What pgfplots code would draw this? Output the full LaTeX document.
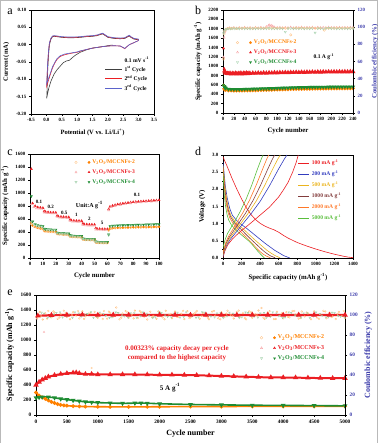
\documentclass[border=0pt]{standalone}
\usepackage{pgfplots}
\pgfplotsset{compat=1.18}
\usepackage{fontspec}
\setmainfont{Liberation Serif}
\definecolor{cor}{RGB}{255,128,0}
\definecolor{cre}{RGB}{235,30,35}
\definecolor{cgr}{RGB}{30,140,50}
\definecolor{cax}{RGB}{60,60,170}
\definecolor{dbl}{RGB}{50,60,190}
\definecolor{dgo}{RGB}{235,180,30}
\definecolor{dbr}{RGB}{130,60,60}
\definecolor{dor}{RGB}{255,120,40}
\definecolor{dgr}{RGB}{90,190,60}
\newcommand{\legtwo}[4]{%
  \draw[color=#2, fill=white, line width=0.35pt, solid] plot[only marks, mark=#1, mark size=1.3pt, mark options={rotate=0}] coordinates {(0pt,0pt)};
  \draw[color=#4, fill=#4, line width=0.2pt, solid] plot[only marks, mark=#3, mark size=1.3pt, mark options={rotate=0}] coordinates {(13pt,0pt)};}
\newcommand{\legtwod}[2]{%
  \draw[color=#1, fill=white, line width=0.35pt, solid] plot[only marks, mark=triangle, mark size=1.3pt, mark options={rotate=180}] coordinates {(0pt,0pt)};
  \draw[color=#2, fill=#2, line width=0.2pt, solid] plot[only marks, mark=triangle*, mark size=1.3pt, mark options={rotate=180}] coordinates {(13pt,0pt)};}
\newcommand{\VO}{V\textsubscript{2}O\textsubscript{3}/MCCNFs}
\pgfplotsset{
  base/.style={scale only axis, axis line style={line width=0.6pt}, tick align=outside,
    major tick length=1.8pt, minor tick length=1pt, tick style={line width=0.45pt, black},
    tick label style={font=\bfseries\fontsize{4.9}{5}\selectfont},
    label style={font=\bfseries\fontsize{6.8}{8}\selectfont},
    /pgf/number format/assume math mode=true,
    /pgf/number format/1000 sep={},
    xticklabel style={yshift=0.6pt}, yticklabel style={xshift=0.6pt},
    legend cell align=left,
    legend style={draw=none, fill=none, font=\bfseries\fontsize{5.6}{6}\selectfont, row sep=-1.2pt, inner sep=0pt},
  },
  single/.style={xtick pos=bottom, ytick pos=left},
}
\begin{document}
\begin{tikzpicture}
\path[use as bounding box] (0,0) rectangle (378pt,443pt);
\draw[gray!55, line width=0.9pt] (0.8pt,0pt) -- (0.8pt,442.4pt) -- (377.2pt,442.4pt) -- (377.2pt,0pt);
% panel letters
\node[font=\fontsize{12}{12}\selectfont, anchor=base] at (10pt,428pt) {a};
\node[font=\fontsize{12}{12}\selectfont, anchor=base] at (198pt,428pt) {b};
\node[font=\fontsize{12}{12}\selectfont, anchor=base] at (10pt,287pt) {c};
\node[font=\fontsize{12}{12}\selectfont, anchor=base] at (198pt,287pt) {d};
\node[font=\fontsize{12}{12}\selectfont, anchor=base] at (10pt,147pt) {e};

% ---------------- panel a ----------------
\begin{axis}[base, single, at={(31pt,329pt)}, anchor=south west, width=123pt, height=104pt,
  xmin=-0.5, xmax=3.5, ymin=-0.20, ymax=0.10,
  xtick={-0.5,0,0.5,1,1.5,2,2.5,3,3.5}, ytick={-0.20,-0.15,-0.10,-0.05,0,0.05,0.10},
  minor x tick num=1,
  xticklabel style={/pgf/number format/.cd, fixed, fixed zerofill, precision=1},
  yticklabel style={/pgf/number format/.cd, fixed, fixed zerofill, precision=2},
  label style={font=\bfseries\fontsize{6.5}{7}\selectfont},
  xlabel={Potential (V vs. Li/Li\textsuperscript{+})}, ylabel={Current (mA)},
  legend style={at={(axis description cs:0.6,0.57)}, anchor=north west}]
\addlegendimage{empty legend}\addlegendentry{0.1 mV s\textsuperscript{-1}}
\addplot[black!75, line width=0.6pt] coordinates {(2.15,-0.001) (2.0,-0.003) (1.8,-0.006) (1.5,-0.01) (1.3,-0.015) (1.1,-0.022) (0.95,-0.03) (0.85,-0.037) (0.75,-0.045) (0.65,-0.047) (0.55,-0.052) (0.45,-0.062) (0.35,-0.072) (0.25,-0.085) (0.15,-0.105) (0.08,-0.125) (0.03,-0.145) (0.01,-0.155) (0.02,-0.14) (0.04,-0.08) (0.07,-0.03) (0.1,0.0) (0.15,0.016) (0.2,0.023) (0.25,0.024) (0.35,0.023) (0.5,0.021) (0.7,0.02) (0.9,0.02) (1.1,0.021) (1.3,0.023) (1.5,0.024) (1.65,0.026) (1.75,0.029) (1.83,0.031) (1.9,0.027) (2.0,0.021) (2.2,0.018) (2.4,0.017) (2.55,0.018) (2.65,0.023) (2.7,0.025) (2.75,0.021) (2.85,0.016) (3.0,0.014)};
\addlegendentry{1\textsuperscript{st} Cycle}
\addplot[cre, line width=0.6pt] coordinates {(3.0,0.012) (2.9,0.008) (2.8,0.004) (2.7,0.0) (2.6,-0.007) (2.55,-0.012) (2.5,-0.009) (2.4,-0.004) (2.2,-0.003) (2.0,-0.004) (1.8,-0.006) (1.5,-0.01) (1.3,-0.014) (1.1,-0.019) (1.0,-0.022) (0.8,-0.025) (0.6,-0.029) (0.45,-0.034) (0.35,-0.042) (0.28,-0.052) (0.2,-0.067) (0.15,-0.08) (0.1,-0.094) (0.05,-0.108) (0.01,-0.12) (0.02,-0.1) (0.04,-0.06) (0.07,-0.02) (0.1,0.005) (0.15,0.018) (0.2,0.024) (0.25,0.025) (0.35,0.024) (0.5,0.022) (0.7,0.021) (0.9,0.021) (1.1,0.022) (1.3,0.024) (1.5,0.025) (1.65,0.027) (1.75,0.030) (1.83,0.032) (1.9,0.028) (2.0,0.022) (2.2,0.019) (2.4,0.018) (2.55,0.019) (2.65,0.024) (2.7,0.026) (2.75,0.022) (2.85,0.017) (3.0,0.015) (3.0,0.012)};
\addlegendentry{2\textsuperscript{nd} Cycle}
\addplot[dbl!80, line width=0.6pt] coordinates {(3.0,0.012) (2.9,0.008) (2.8,0.004) (2.7,0.0) (2.6,-0.007) (2.55,-0.011) (2.5,-0.008) (2.4,-0.004) (2.2,-0.003) (2.0,-0.004) (1.8,-0.006) (1.5,-0.01) (1.3,-0.014) (1.1,-0.018) (1.0,-0.021) (0.8,-0.024) (0.6,-0.027) (0.45,-0.032) (0.35,-0.04) (0.28,-0.05) (0.2,-0.064) (0.15,-0.077) (0.1,-0.09) (0.05,-0.103) (0.01,-0.113) (0.02,-0.095) (0.04,-0.055) (0.07,-0.018) (0.1,0.006) (0.15,0.019) (0.2,0.025) (0.25,0.026) (0.35,0.025) (0.5,0.023) (0.7,0.022) (0.9,0.022) (1.1,0.023) (1.3,0.025) (1.5,0.026) (1.65,0.028) (1.75,0.031) (1.83,0.033) (1.9,0.029) (2.0,0.023) (2.2,0.02) (2.4,0.019) (2.55,0.02) (2.65,0.025) (2.7,0.027) (2.75,0.023) (2.85,0.018) (3.0,0.016) (3.0,0.012)};
\addlegendentry{3\textsuperscript{rd} Cycle}
\end{axis}

% ---------------- panel b ----------------
\begin{axis}[base, at={(223pt,330pt)}, anchor=south west, width=130pt, height=103pt,
  xmin=0, xmax=240, ymin=0, ymax=2200, xtick={0,20,...,240}, ytick={0,200,...,2200},
  axis y line*=left, xtick pos=bottom,
  xlabel={Cycle number}, ylabel={Specific capacity (mAh g\textsuperscript{-1})},
  legend style={at={(axis description cs:0.1,0.73)}, anchor=north west, row sep=0.6pt}]
\addplot[cor, line width=1.2pt, mark=*, mark size=1.1pt, legend image code/.code={\legtwo{o}{cor!45}{*}{cor}}] coordinates {(2,520) (3,500) (5,490) (10,480) (15,478) (20,475) (25,476) (30,475) (35,477) (40,478) (45,479) (50,480) (55,482) (60,483) (65,485) (70,487) (75,488) (80,490) (85,493) (90,495) (95,497) (100,498) (105,500) (110,502) (115,503) (120,505) (125,507) (130,508) (135,509) (140,510) (145,511) (150,512) (155,514) (160,515) (165,516) (170,517) (175,518) (180,518) (185,519) (190,520) (195,520) (200,521) (205,522) (210,522) (215,523) (220,523) (225,524) (230,524) (235,525) (240,525)};
\addlegendentry{\textcolor{cor}{\VO-2}}
\addplot[cre, line width=1.6pt, mark=triangle*, mark size=1.3pt, legend image code/.code={\legtwo{triangle}{cre!40}{triangle*}{cre}}] coordinates {(3,900) (4,870) (5,850) (8,845) (10,840) (13,850) (15,832) (18,845) (20,838) (23,850) (25,835) (28,846) (30,838) (33,852) (35,836) (38,848) (40,842) (43,855) (45,838) (48,850) (50,843) (55,852) (60,848) (65,856) (70,850) (75,858) (80,852) (85,860) (90,855) (95,862) (100,858) (105,864) (110,860) (115,866) (120,862) (125,868) (130,864) (135,870) (140,866) (145,872) (150,868) (155,874) (160,870) (165,876) (170,872) (175,878) (180,873) (185,879) (190,875) (195,880) (200,876) (205,881) (210,877) (215,882) (220,878) (225,883) (230,879) (235,884) (240,881)};
\addlegendentry{\textcolor{cre}{\VO-3}}
\addplot[cgr, line width=1.2pt, mark=triangle*, mark size=1.3pt, mark options={rotate=180}, legend image code/.code={\legtwod{cgr!40}{cgr}}] coordinates {(2,570) (3,550) (5,530) (10,510) (15,506) (20,505) (25,505) (30,505) (35,506) (40,508) (45,510) (50,511) (55,513) (60,515) (65,517) (70,519) (75,520) (80,522) (85,524) (90,526) (95,528) (100,530) (105,532) (110,534) (115,536) (120,538) (125,540) (130,542) (135,543) (140,545) (145,546) (150,548) (155,549) (160,550) (165,551) (170,552) (175,553) (180,553) (185,554) (190,555) (195,556) (200,556) (205,557) (210,557) (215,558) (220,558) (225,559) (230,559) (235,560) (240,560)};
\addlegendentry{\textcolor{cgr}{\VO-4}}
\addplot[only marks, cre, mark=triangle*, mark size=1.3pt] coordinates {(1,1380) (2,950)};
\addplot[only marks, cor, mark=*, mark size=1.1pt] coordinates {(1,600)};
\addplot[only marks, cgr, mark=triangle*, mark size=1.3pt, mark options={rotate=180}] coordinates {(1,600)};
\node[font=\bfseries\fontsize{5.6}{6}\selectfont] at (axis cs:186,1200) {0.1 A g\textsuperscript{-1}};
\end{axis}
\begin{axis}[base, at={(223pt,330pt)}, anchor=south west, width=130pt, height=103pt,
  xmin=0, xmax=240, ymin=0, ymax=120, ytick={0,20,...,120},
  axis y line*=right, axis x line=none,
  yticklabel style={text=cax, xshift=-1.2pt}, ylabel style={text=cax},
  ylabel={Coulombic efficiency (\%)}]
\addplot[only marks, mark=triangle, mark size=1.3pt, cre!40, line width=0.35pt] coordinates {(1,65) (2,88) (3,94) (4,96) (5,97.3) (8,98.3) (12,99) (16,98.6) (20,99.4) (25,98.8) (30,99.3) (35,98.9) (40,99.6) (45,98.9) (50,99.4) (55,98.8) (60,99.5) (65,99.1) (70,99.7) (75,99) (80,100.5) (84,101.8) (86,102.4) (88,101) (90,101.8) (92,100.8) (95,100) (100,99.3) (105,99.7) (110,99) (115,99.5) (120,99.2) (125,99.8) (130,99.1) (135,99.6) (140,99.3) (145,99.9) (150,99.2) (155,99.7) (160,99.4) (165,99.8) (170,99.1) (175,99.7) (180,99.3) (185,99.6) (190,99.2) (195,99.8) (200,99.4) (205,99.6) (210,99.3) (215,99.7) (220,99.4) (225,99.6) (230,99.3) (235,99.7) (240,99.5)};
\addplot[only marks, mark=o, mark size=1.2pt, cor!50, line width=0.35pt] coordinates {(1,63) (2,92) (3,95.5) (5,97.5) (8,98.3) (12,98.8) (16,98.5) (20,99) (25,98.4) (30,98.9) (35,98.6) (40,99.1) (45,98.5) (50,98.9) (55,98.4) (60,99.2) (65,98.7) (70,98.9) (75,98.5) (80,99.1) (85,98.6) (90,99) (95,98.4) (100,98.9) (105,98.6) (110,99.1) (115,98.7) (120,98.9) (125,91) (130,98.6) (135,99) (140,98.7) (145,99.1) (150,98.6) (155,98.9) (160,98.7) (165,99.1) (170,98.6) (175,98.9) (180,98.7) (187,96.5) (190,99) (195,98.6) (200,98.9) (205,98.7) (210,99.1) (215,98.6) (220,98.9) (225,98.7) (230,99) (235,98.6) (240,98.9)};
\addplot[only marks, mark=triangle, mark size=1.3pt, mark options={rotate=180}, cgr!40, line width=0.35pt] coordinates {(1,93) (2,95) (4,97) (7,98) (10,98.3) (14,98.1) (18,98.5) (22,98.2) (26,98.6) (30,98.1) (35,98.5) (40,98.2) (45,98.6) (50,98.1) (55,98.5) (60,98.3) (65,98.6) (70,98.2) (75,98.5) (80,98.3) (85,98.7) (90,98.2) (95,98.5) (100,98.3) (105,98.6) (110,98.2) (115,94.5) (120,98.4) (125,98.6) (130,98.2) (135,98.5) (140,98.3) (145,98.6) (150,98.2) (155,98.5) (160,98.3) (165,98.6) (170,93.5) (175,98.4) (180,98.6) (185,98.2) (190,98.5) (195,99.2) (200,98.4) (205,98.6) (210,98.2) (215,98.5) (220,98.3) (225,98.6) (230,98.2) (235,98.5) (240,98.4)};
\end{axis}

% ---------------- panel c ----------------
\begin{axis}[base, single, at={(30pt,185pt)}, anchor=south west, width=129pt, height=104pt,
  xmin=0, xmax=100, ymin=0, ymax=1600, xtick={0,10,...,100}, ytick={0,200,...,1600},
  xlabel={Cycle number}, ylabel={Specific capacity (mAh g\textsuperscript{-1})},
  legend style={at={(axis description cs:0.345,0.965)}, anchor=north west, row sep=0.6pt}]
\addplot[only marks, cor, mark=*, mark size=1.1pt, legend image code/.code={\legtwo{o}{cor!45}{*}{cor}}] coordinates {(1,540) (2,500) (4,480) (6,465) (8,455) (10,448) (11,420) (12,415) (14,410) (16,408) (18,405) (20,403) (21,375) (22,370) (24,368) (26,366) (28,364) (30,362) (31,335) (32,330) (34,328) (36,326) (38,324) (40,322) (41,290) (42,285) (44,283) (46,281) (48,280) (50,279) (51,245) (52,238) (54,236) (56,235) (58,234) (60,234) (61,430) (62,455) (64,460) (66,463) (68,465) (70,467) (72,468) (74,469) (76,470) (78,471) (80,472) (82,473) (84,474) (86,475) (88,476) (90,476) (92,477) (94,478) (96,478) (98,479) (100,480)};
\addlegendentry{\textcolor{cor}{\VO-2}}
\addplot[only marks, cre, mark=triangle*, mark size=1.3pt, legend image code/.code={\legtwo{triangle}{cre!40}{triangle*}{cre}}] coordinates {(1,1370) (2,840) (4,800) (6,780) (8,775) (10,770) (11,720) (12,710) (14,705) (16,700) (18,700) (20,698) (21,650) (22,640) (24,635) (26,632) (28,630) (30,628) (31,590) (32,580) (34,575) (36,573) (38,572) (40,570) (41,530) (42,520) (44,518) (46,516) (48,515) (50,514) (51,460) (52,450) (54,448) (56,446) (58,445) (60,445) (61,750) (62,790) (64,805) (66,815) (68,825) (70,832) (72,838) (74,844) (76,850) (78,855) (80,860) (82,864) (84,867) (86,870) (88,873) (90,876) (92,879) (94,882) (96,885) (98,887) (100,890)};
\addlegendentry{\textcolor{cre}{\VO-3}}
\addplot[only marks, cgr, mark=triangle*, mark size=1.3pt, mark options={rotate=180}, legend image code/.code={\legtwod{cgr!40}{cgr}}] coordinates {(1,950) (2,560) (4,520) (6,505) (8,495) (10,488) (11,450) (12,445) (14,440) (16,438) (18,436) (20,435) (21,390) (22,385) (24,382) (26,380) (28,378) (30,376) (31,350) (32,345) (34,342) (36,340) (38,338) (40,337) (41,300) (42,296) (44,294) (46,292) (48,290) (50,289) (51,255) (52,250) (54,248) (56,246) (58,245) (60,245) (61,360) (62,490) (64,495) (66,498) (68,500) (70,502) (72,504) (74,505) (76,507) (78,508) (80,509) (82,510) (84,511) (86,512) (88,513) (90,514) (92,515) (94,516) (96,517) (98,518) (100,520)};
\addlegendentry{\textcolor{cgr}{\VO-4}}
\addplot[only marks, cor!45, mark=o, mark size=1.1pt, line width=0.35pt] coordinates {(1,520) (3,485) (5,468) (7,455) (9,448) (11,412) (13,405) (15,402) (17,400) (19,398) (21,368) (23,362) (25,360) (27,358) (29,356) (31,328) (33,322) (35,320) (37,318) (39,316) (41,283) (43,278) (45,276) (47,274) (49,273) (51,238) (53,232) (55,230) (57,229) (59,228) (61,420) (63,452) (66,458) (70,462) (74,464) (78,466) (82,468) (86,470) (90,471) (94,473) (98,474)};
\addplot[only marks, cre!40, mark=triangle, mark size=1.3pt, line width=0.35pt] coordinates {(1,830) (3,785) (5,765) (7,760) (9,755) (11,700) (13,693) (15,690) (17,688) (19,686) (21,632) (23,622) (25,620) (27,618) (29,616) (31,568) (33,562) (35,560) (37,558) (39,557) (41,505) (43,502) (45,500) (47,499) (49,498) (51,438) (53,434) (55,432) (57,431) (59,430) (61,735) (63,785) (66,800) (70,815) (74,828) (78,840) (82,848) (86,855) (90,861) (94,867) (98,872)};
\addplot[only marks, cgr!40, mark=triangle, mark size=1.3pt, mark options={rotate=180}, line width=0.35pt] coordinates {(1,560) (3,515) (5,498) (7,488) (9,480) (11,440) (13,433) (15,430) (17,428) (19,426) (21,380) (23,374) (25,372) (27,370) (29,368) (31,340) (33,334) (35,332) (37,330) (39,329) (41,292) (43,287) (45,285) (47,284) (49,283) (51,248) (53,243) (55,241) (57,240) (59,239) (61,350) (63,485) (66,490) (70,494) (74,497) (78,500) (82,502) (86,504) (90,506) (94,508) (98,510)};
\begin{scope}[font=\bfseries\fontsize{5}{6}\selectfont]
\node at (axis cs:7,865) {0.1};
\node at (axis cs:16,785) {0.2};
\node at (axis cs:26.5,700) {0.5};
\node at (axis cs:36,660) {1};
\node at (axis cs:46,610) {2};
\node at (axis cs:56,545) {5};
\node at (axis cs:83,970) {0.1};
\node[font=\bfseries\fontsize{6}{7}\selectfont] at (axis cs:46,815) {Unit:A g\textsuperscript{-1}};
\end{scope}
\end{axis}

% ---------------- panel d ----------------
\begin{axis}[base, single, at={(223pt,185pt)}, anchor=south west, width=130pt, height=103pt,
  xmin=0, xmax=1400, ymin=0, ymax=3.0, xtick={0,200,...,1400}, ytick={0,0.5,1,1.5,2,2.5,3},
  minor x tick num=1, minor y tick num=1,
  yticklabel style={/pgf/number format/.cd, fixed, fixed zerofill, precision=1},
  xlabel={Specific capacity (mAh g\textsuperscript{-1})}, ylabel={Voltage (V)},
  legend style={at={(axis description cs:0.575,0.975)}, anchor=north west, row sep=0.4pt},
  legend image code/.code={\draw[#1, line width=0.9pt] (0pt,0pt) -- (11pt,0pt);}]
\addplot[cre, line width=0.6pt] coordinates {(0,2.95) (15,2.85) (40,2.7) (70,2.5) (100,2.3) (150,2.0) (200,1.72) (250,1.47) (300,1.27) (350,1.12) (400,1.01) (450,0.93) (500,0.87) (550,0.82) (600,0.75) (650,0.66) (700,0.58) (800,0.45) (900,0.35) (1000,0.26) (1100,0.18) (1200,0.11) (1300,0.05) (1350,0.025) (1400,0.01)};
\addlegendentry{\textcolor{cre}{100 mA g\textsuperscript{-1}}}
\addplot[dbl, line width=0.6pt] coordinates {(0,2.8) (11,2.5) (25,2.1) (45,1.75) (72,1.45) (100,1.25) (151,1.08) (201,0.97) (251,0.87) (302,0.76) (352,0.65) (402,0.54) (452,0.43) (503,0.33) (553,0.23) (603,0.15) (653,0.07) (700,0.02) (718,0.0)};
\addlegendentry{\textcolor{dbl}{200 mA g\textsuperscript{-1}}}
\addplot[dgo, line width=0.6pt] coordinates {(0,2.7) (9,2.45) (22,2.05) (39,1.72) (62,1.42) (86,1.23) (130,1.06) (173,0.95) (216,0.85) (259,0.74) (302,0.63) (346,0.52) (389,0.42) (432,0.32) (475,0.22) (518,0.14) (561,0.07) (602,0.02) (617,0.0)};
\addlegendentry{\textcolor{dgo}{500 mA g\textsuperscript{-1}}}
\addplot[dbr, line width=0.6pt] coordinates {(0,2.65) (8,2.4) (20,2.0) (35,1.68) (56,1.4) (79,1.21) (118,1.04) (158,0.93) (197,0.83) (236,0.72) (276,0.61) (315,0.51) (355,0.41) (394,0.31) (434,0.21) (473,0.13) (512,0.06) (549,0.02) (563,0.0)};
\addlegendentry{\textcolor{dbr}{1000 mA g\textsuperscript{-1}}}
\addplot[dor, line width=0.6pt] coordinates {(0,2.6) (7,2.35) (18,1.95) (32,1.63) (51,1.36) (71,1.18) (107,1.01) (143,0.9) (179,0.8) (214,0.7) (250,0.6) (286,0.5) (322,0.4) (357,0.3) (393,0.2) (428,0.12) (464,0.06) (497,0.02) (510,0.0)};
\addlegendentry{\textcolor{dor}{2000 mA g\textsuperscript{-1}}}
\addplot[dgr, line width=0.6pt] coordinates {(0,2.5) (6,2.2) (15,1.8) (28,1.5) (45,1.25) (62,1.1) (93,0.95) (125,0.86) (156,0.78) (187,0.7) (218,0.63) (249,0.56) (280,0.49) (312,0.4) (343,0.3) (374,0.2) (405,0.11) (434,0.03) (445,0.0)};
\addlegendentry{\textcolor{dgr}{5000 mA g\textsuperscript{-1}}}
\addplot[cre, line width=0.6pt] coordinates {(0,0.02) (20,0.2) (50,0.38) (100,0.55) (150,0.68) (200,0.8) (300,1.02) (400,1.25) (500,1.48) (600,1.78) (650,1.98) (700,2.2) (750,2.5) (790,2.8) (810,3.0)};
\addplot[dbl, line width=0.6pt] coordinates {(0,0.05) (15,0.2) (40,0.38) (80,0.55) (150,0.78) (200,0.95) (300,1.28) (400,1.65) (500,2.1) (600,2.6) (660,2.88) (689,3.0)};
\addplot[dgo, line width=0.6pt] coordinates {(0,0.08) (14,0.22) (36,0.4) (72,0.57) (135,0.8) (179,0.96) (268,1.29) (358,1.66) (447,2.1) (537,2.6) (590,2.88) (617,3.0)};
\addplot[dbr, line width=0.6pt] coordinates {(0,0.1) (12,0.24) (32,0.42) (64,0.59) (121,0.82) (161,0.98) (242,1.3) (322,1.67) (403,2.11) (484,2.6) (532,2.88) (556,3.0)};
\addplot[dor, line width=0.6pt] coordinates {(0,0.15) (11,0.28) (29,0.45) (57,0.62) (107,0.84) (143,1.0) (214,1.32) (285,1.68) (357,2.12) (428,2.6) (471,2.88) (492,3.0)};
\addplot[dgr, line width=0.6pt] coordinates {(0,0.3) (9,0.4) (25,0.55) (50,0.72) (94,0.92) (125,1.06) (187,1.36) (250,1.72) (312,2.14) (375,2.62) (412,2.88) (431,3.0)};
\end{axis}

% ---------------- panel e ----------------
\begin{axis}[base, at={(36pt,28pt)}, anchor=south west, width=309pt, height=120pt,
  xmin=0, xmax=5000, ymin=0, ymax=1600, xtick={0,500,...,5000}, ytick={0,200,...,1600},
  axis y line*=left, xtick pos=bottom,
  tick label style={font=\bfseries\fontsize{5.3}{6}\selectfont},
  label style={font=\bfseries\fontsize{8}{9}\selectfont},
  xlabel={Cycle number}, ylabel={Specific capacity (mAh g\textsuperscript{-1})},
  legend style={at={(axis description cs:0.725,0.685)}, anchor=north west, row sep=0.8pt, font=\bfseries\fontsize{6}{7}\selectfont}]
\addplot[cor, line width=1.6pt, mark=*, mark size=1pt, legend image code/.code={\legtwo{o}{cor!45}{*}{cor}}] coordinates {(0,300) (50,260) (100,235) (150,215) (200,195) (250,175) (300,160) (350,145) (400,135) (450,128) (500,124) (600,118) (700,115) (800,112) (1000,110) (1200,109) (1500,108) (1800,109) (2000,110) (2500,112) (3000,113) (3500,115) (4000,115) (4500,116) (5000,117)};
\addlegendentry{\textcolor{cor}{\VO-2}}
\addplot[cre, line width=2pt, mark=triangle*, mark size=1.2pt, legend image code/.code={\legtwo{triangle}{cre!40}{triangle*}{cre}}] coordinates {(0,400) (50,440) (100,470) (150,490) (200,510) (300,530) (400,545) (500,555) (600,562) (650,565) (700,555) (800,545) (900,545) (1000,540) (1200,540) (1400,540) (1600,540) (1800,538) (2000,535) (2200,535) (2400,533) (2600,530) (2800,525) (3000,520) (3200,515) (3400,510) (3600,505) (3800,500) (4000,500) (4200,498) (4400,495) (4600,492) (4800,490) (5000,490)};
\addlegendentry{\textcolor{cre}{\VO-3}}
\addplot[cgr, line width=1.6pt, mark=triangle*, mark size=1.2pt, mark options={rotate=180}, legend image code/.code={\legtwod{cgr!40}{cgr}}] coordinates {(0,230) (50,235) (100,240) (200,240) (300,230) (400,215) (500,205) (600,195) (700,185) (800,175) (900,170) (1000,165) (1200,160) (1400,155) (1600,158) (1700,160) (1800,157) (2000,150) (2500,140) (3000,135) (3500,130) (4000,128) (4500,125) (5000,122)};
\addlegendentry{\textcolor{cgr}{\VO-4}}
\node[text=cre, align=center, font=\bfseries\fontsize{7}{8.8}\selectfont] at (axis cs:2280,820) {0.00323\% capacity decay per cycle\\compared to the highest capacity};
\node[font=\bfseries\fontsize{7}{8}\selectfont] at (axis cs:2170,365) {5 A g\textsuperscript{-1}};
\end{axis}
\begin{axis}[base, at={(36pt,28pt)}, anchor=south west, width=309pt, height=120pt,
  xmin=0, xmax=5000, ymin=0, ymax=120, ytick={0,20,...,120},
  axis y line*=right, axis x line=none,
  tick label style={font=\bfseries\fontsize{5.3}{6}\selectfont},
  label style={font=\bfseries\fontsize{8}{9}\selectfont},
  yticklabel style={text=cax, xshift=-1.2pt}, ylabel style={text=cax},
  ylabel={Coulombic efficiency (\%)}]
\addplot[only marks, mark=o, mark size=0.9pt, cor!55, line width=0.3pt] coordinates {(20,97) (60,103) (110,95.5) (150,101.8) (200,104) (250,97.8) (300,102.5) (350,96.2) (400,100.9) (450,104.3) (500,98.1) (550,95.8) (600,102.9) (650,99.4) (700,96.6) (750,103.7) (800,98.8) (850,101.4) (900,47) (950,103.1) (1000,97.3) (1050,100.7) (1100,104.1) (1150,96.4) (1200,102.2) (1250,98.6) (1300,107.5) (1350,95.7) (1400,101.6) (1450,103.9) (1500,97.1) (1550,100.2) (1600,104.4) (1650,96.9) (1700,102.6) (1750,98.3) (1800,95.6) (1850,103.3) (1900,99.1) (1950,96.2) (2000,102.8) (2050,97.6) (2100,104.2) (2150,100.5) (2200,96.8) (2250,103.5) (2300,98.2) (2350,101.3) (2400,95.9) (2450,103.8) (2500,97.5) (2550,100.9) (2600,104.0) (2650,96.3) (2700,102.1) (2750,98.7) (2800,95.8) (2850,103.4) (2900,99.6) (2950,96.7) (3000,102.7) (3050,97.9) (3100,104.3) (3150,100.1) (3200,96.5) (3250,103.0) (3300,98.4) (3350,101.8) (3400,95.7) (3450,103.6) (3500,97.2) (3550,100.6) (3600,104.5) (3650,107.0) (3700,96.1) (3750,102.4) (3800,98.9) (3850,95.9) (3900,103.2) (3950,99.3) (4000,96.6) (4050,102.9) (4100,97.7) (4150,104.1) (4200,100.4) (4250,96.4) (4300,103.4) (4350,98.5) (4400,101.5) (4450,95.8) (4500,103.7) (4550,97.4) (4600,100.8) (4650,104.2) (4700,96.8) (4750,102.3) (4800,98.6) (4850,95.9) (4900,103.1) (4950,99.2) (5000,97.0) (80,98.8) (180,96.4) (280,103.6) (380,97.5) (480,102.1) (580,99.8) (680,104.1) (780,96.1) (880,101.9) (980,98.2) (1080,95.9) (1180,103.4) (1280,99.5) (1380,97.2) (1480,102.6) (1580,96.6) (1680,104.0) (1780,99.9) (1880,97.6) (1980,103.7) (2080,95.8) (2180,101.1) (2280,98.4) (2380,104.2) (2480,96.9) (2580,102.4) (2680,99.2) (2780,97.1) (2880,103.9) (2980,95.7) (3080,101.4) (3180,98.9) (3280,104.4) (3380,96.8) (3480,102.8) (3580,99.6) (3680,97.3) (3780,103.8) (3880,96.0) (3980,101.7) (4080,98.1) (4180,104.0) (4280,97.0) (4380,102.5) (4480,99.4) (4580,96.3) (4680,103.5) (4780,98.0) (4880,101.2) (4980,104.1)};
\addplot[only marks, mark=triangle, mark size=1pt, mark options={rotate=180}, cgr!45, line width=0.3pt] coordinates {(40,99) (130,101.5) (230,98) (330,102.3) (430,97.6) (530,100.8) (630,102.7) (730,98.4) (830,101.1) (930,97.3) (1030,102.5) (1130,99.2) (1230,97.8) (1330,102.1) (1430,98.7) (1530,101.9) (1630,97.4) (1730,102.6) (1830,99.5) (1930,97.9) (2030,102.2) (2130,98.3) (2230,101.4) (2330,97.5) (2430,102.8) (2530,99.1) (2630,97.7) (2730,102.4) (2830,98.6) (2930,101.7) (3030,97.2) (3130,102.5) (3230,99.3) (3330,97.8) (3430,102.1) (3530,98.5) (3630,101.6) (3730,97.4) (3830,102.7) (3930,99.0) (4030,97.6) (4130,102.3) (4230,98.8) (4330,101.8) (4430,97.3) (4530,102.6) (4630,99.4) (4730,97.9) (4830,102.2) (4930,98.4) (90,102.4) (190,97.4) (290,100.6) (390,102.8) (490,98.6) (590,97.2) (690,101.7) (790,99.8) (890,102.9) (990,98.1) (1090,101.3) (1190,97.1) (1290,102.6) (1390,99.6) (1490,97.5) (1590,102.0) (1690,98.9) (1790,101.5) (1890,97.2) (1990,102.7) (2090,99.7) (2190,97.6) (2290,102.4) (2390,98.2) (2490,101.2) (2590,97.3) (2690,102.9) (2790,99.4) (2890,97.7) (2990,102.1) (3090,98.8) (3190,101.4) (3290,97.1) (3390,102.6) (3490,99.9) (3590,97.5) (3690,102.3) (3790,98.3) (3890,101.8) (3990,97.2) (4090,102.8) (4190,99.6) (4290,97.4) (4390,102.0) (4490,98.7) (4590,101.3) (4690,97.7) (4790,102.5) (4890,99.1) (4990,97.8)};
\addplot[cre, line width=2.2pt, mark=triangle*, mark size=1.1pt] coordinates {(30,99.2) (250,99.8) (500,100) (750,100.2) (1000,99.9) (1250,100.1) (1500,100) (1750,99.9) (2000,100.1) (2250,100) (2500,99.9) (2750,100.1) (3000,100) (3250,99.9) (3500,100.1) (3750,100) (4000,99.9) (4250,100.1) (4500,100) (4750,99.9) (5000,100)};
\addplot[only marks, cre!40, mark=triangle, mark size=1pt, line width=0.3pt] coordinates {(130,83) (10,96)};
\end{axis}
\end{tikzpicture}
\end{document}
